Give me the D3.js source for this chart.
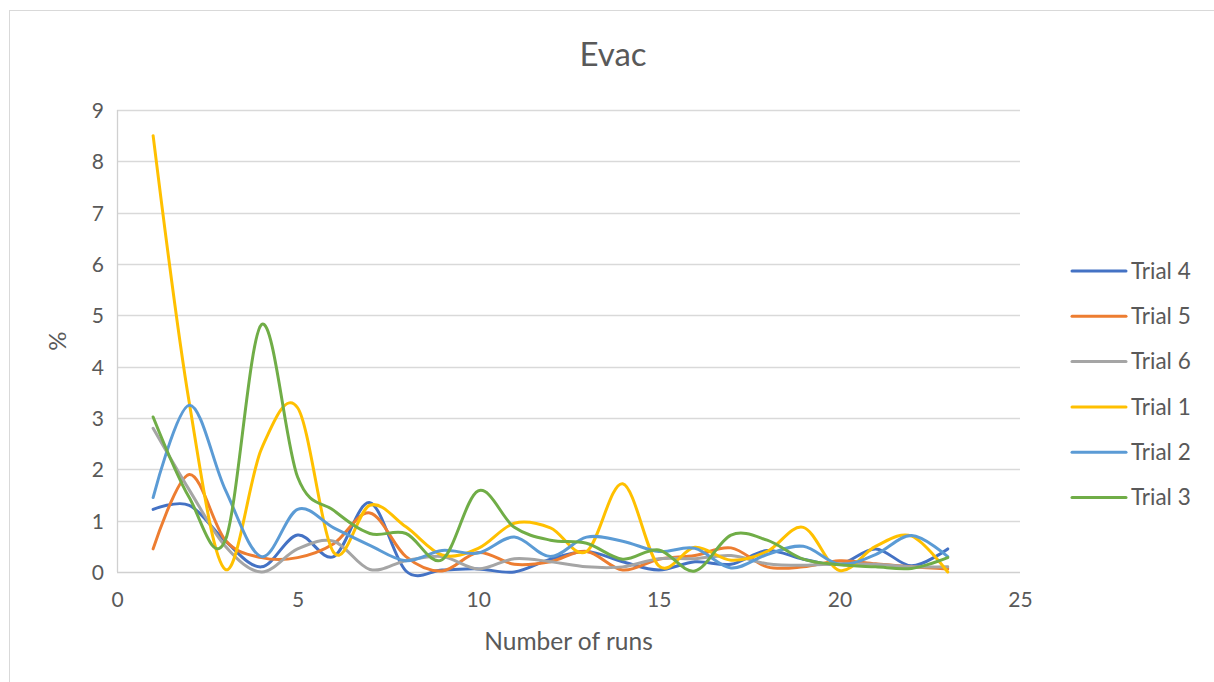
<!DOCTYPE html>
<html>
<head>
<meta charset="utf-8">
<script src="https://cdn.jsdelivr.net/npm/d3@7"></script>
<style>
  html, body { margin: 0; padding: 0; background: #fff; }
  svg { display: block; }
  text { font-family: Lato, "Noto Sans", sans-serif; fill: #595959; }
</style>
</head>
<body>
<svg id="chart" width="1214" height="682"></svg>
<script>
// Runs 1..23
const runs = d3.range(1, 24);

// Evacuation percentage per run, one array per trial
const trial4 = [1.22, 1.3, 0.6, 0.1, 0.72, 0.3, 1.35, 0.02, 0.04, 0.06, 0.0, 0.25, 0.4, 0.2, 0.04, 0.2, 0.15, 0.42, 0.25, 0.15, 0.45, 0.12, 0.45];
const trial5 = [0.45, 1.9, 0.62, 0.28, 0.28, 0.55, 1.15, 0.3, 0.02, 0.38, 0.15, 0.2, 0.4, 0.04, 0.25, 0.32, 0.47, 0.1, 0.1, 0.22, 0.16, 0.1, 0.06];
const trial6 = [2.8, 1.6, 0.5, 0.0, 0.45, 0.6, 0.05, 0.22, 0.3, 0.06, 0.26, 0.2, 0.1, 0.1, 0.26, 0.26, 0.32, 0.16, 0.13, 0.16, 0.15, 0.1, 0.1];
const trial1 = [8.5, 3.3, 0.05, 2.4, 3.2, 0.38, 1.3, 0.88, 0.33, 0.46, 0.95, 0.86, 0.4, 1.72, 0.12, 0.48, 0.23, 0.4, 0.87, 0.03, 0.5, 0.7, 0.0];
const trial2 = [1.45, 3.25, 1.6, 0.3, 1.22, 0.86, 0.52, 0.22, 0.42, 0.37, 0.68, 0.3, 0.68, 0.6, 0.4, 0.46, 0.08, 0.34, 0.5, 0.15, 0.34, 0.71, 0.3];
const trial3 = [3.02, 1.45, 0.62, 4.82, 1.85, 1.2, 0.75, 0.75, 0.24, 1.58, 0.87, 0.62, 0.56, 0.25, 0.43, 0.02, 0.72, 0.62, 0.25, 0.14, 0.1, 0.07, 0.28];

const seriesNames = ["Trial 4", "Trial 5", "Trial 6", "Trial 1", "Trial 2", "Trial 3"];
const seriesValues = [trial4, trial5, trial6, trial1, trial2, trial3];
const seriesColors = ["#4472C4", "#ED7D31", "#A5A5A5", "#FFC000", "#5B9BD5", "#70AD47"];

const xTicks = [0, 5, 10, 15, 20, 25];
const yTicks = d3.range(0, 10);

const svg = d3.select("#chart");

// chart frame
svg.append("rect")
  .attr("x", 9.5).attr("y", 10.5)
  .attr("width", 1212).attr("height", 680)
  .attr("fill", "none").attr("stroke", "#d9d9d9").attr("stroke-width", 1);

const plot = { left: 117, right: 1020, top: 110, bottom: 572 };

const x = d3.scaleLinear().domain([0, 25]).range([plot.left, plot.right]);
const y = d3.scaleLinear().domain([0, 9]).range([plot.bottom, plot.top]);

// horizontal gridlines
svg.append("g")
  .selectAll("line")
  .data(yTicks.filter(d => d > 0))
  .join("line")
  .attr("x1", plot.left).attr("x2", plot.right)
  .attr("y1", d => Math.round(y(d)) + 0.5).attr("y2", d => Math.round(y(d)) + 0.5)
  .attr("stroke", "#d9d9d9").attr("stroke-width", 1.3);

// left axis line
svg.append("line")
  .attr("x1", plot.left + 0.5).attr("x2", plot.left + 0.5)
  .attr("y1", plot.top).attr("y2", plot.bottom)
  .attr("stroke", "#d0d0d0").attr("stroke-width", 1.3);

// bottom axis line
svg.append("line")
  .attr("x1", plot.left).attr("x2", plot.right)
  .attr("y1", plot.bottom + 0.5).attr("y2", plot.bottom + 0.5)
  .attr("stroke", "#d0d0d0").attr("stroke-width", 1.3);

// y tick labels
const yAxis = d3.axisLeft(y).tickValues(yTicks).tickSize(0).tickPadding(0);
const gy = svg.append("g").attr("transform", `translate(${plot.left - 13},0)`).call(yAxis);
gy.select(".domain").remove();
gy.selectAll("text")
  .style("font-size", "21px").attr("fill", "#595959").attr("dy", "0.35em");

// x tick labels
const xAxis = d3.axisBottom(x).tickValues(xTicks).tickSize(0).tickPadding(0);
const gx = svg.append("g").attr("transform", `translate(0,${plot.bottom + 20})`).call(xAxis);
gx.select(".domain").remove();
gx.selectAll("text")
  .style("font-size", "21px").attr("fill", "#595959").attr("dy", "0.71em");

// series lines, smoothed
const line = d3.line()
  .x((d, i) => x(runs[i]))
  .y(d => y(d))
  .curve(d3.curveCardinal.tension(0));

svg.append("g")
  .selectAll("path")
  .data(seriesValues)
  .join("path")
  .attr("d", d => line(d))
  .attr("fill", "none")
  .attr("stroke", (d, i) => seriesColors[i])
  .attr("stroke-width", 3)
  .attr("stroke-linecap", "round")
  .attr("stroke-linejoin", "round");

// title
svg.append("text")
  .attr("x", 613).attr("y", 66)
  .attr("text-anchor", "middle")
  .style("font-size", "33px")
  .text("Evac");

// axis titles
svg.append("text")
  .attr("x", (plot.left + plot.right) / 2).attr("y", 650)
  .attr("text-anchor", "middle")
  .style("font-size", "24.5px")
  .text("Number of runs");

svg.append("text")
  .attr("transform", `translate(66,${(plot.top + plot.bottom) / 2}) rotate(-90)`)
  .attr("text-anchor", "middle")
  .style("font-size", "24px")
  .text("%");

// legend
const legend = svg.append("g")
  .selectAll("g")
  .data(seriesNames)
  .join("g")
  .attr("transform", (d, i) => `translate(1072,${271 + i * 45.3})`);

legend.append("line")
  .attr("x1", 0).attr("x2", 54)
  .attr("stroke", (d, i) => seriesColors[i])
  .attr("stroke-width", 3)
  .attr("stroke-linecap", "round");

legend.append("text")
  .attr("x", 59).attr("y", 0).attr("dy", "0.35em")
  .style("font-size", "22.5px")
  .text(d => d);
</script>
</body>
</html>
